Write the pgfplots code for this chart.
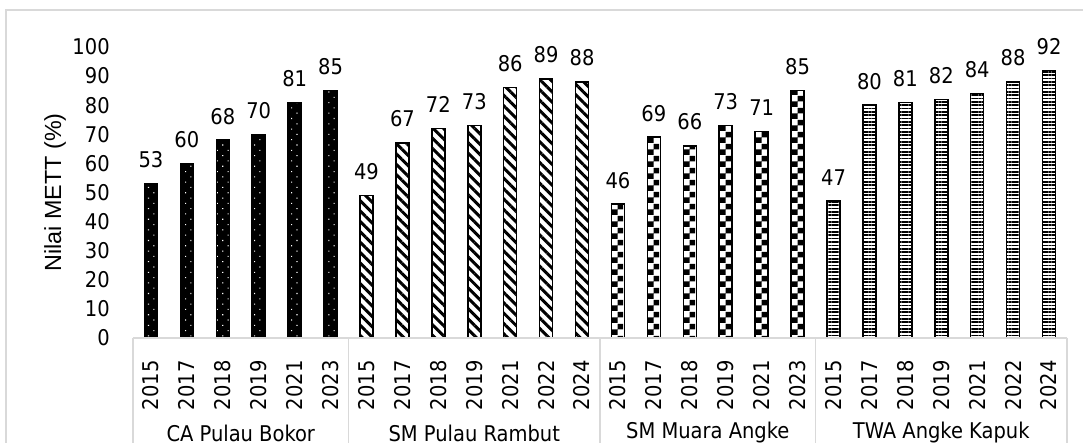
\documentclass[border=0pt]{standalone}
\usepackage{pgfplots}
\pgfplotsset{compat=1.18}
\usepackage{fontspec}
\setmainfont{DejaVu Sans Condensed}
\newfontfamily\arialf{Liberation Sans}
\usetikzlibrary{patterns,patterns.meta}
\pgfdeclarepatternformonly{mycheck}{\pgfpointorigin}{\pgfqpoint{7.2pt}{7.2pt}}{\pgfqpoint{7.2pt}{7.2pt}}{%
  \pgfpathrectangle{\pgfpointorigin}{\pgfqpoint{3.6pt}{3.6pt}}%
  \pgfpathrectangle{\pgfqpoint{3.6pt}{3.6pt}}{\pgfqpoint{3.6pt}{3.6pt}}%
  \pgfusepath{fill}}
\definecolor{framegray}{RGB}{217,217,217}
\newcommand{\cf}{\fontsize{13}{15}\selectfont}
\begin{document}
\begin{tikzpicture}
\path[use as bounding box] (-79.8pt,-62.4pt) rectangle (570pt,202.8pt);
\clip (-79.8pt,-62.4pt) rectangle (570pt,202.8pt);
\draw[framegray, line width=0.8pt] (-76.2pt,-80pt) -- (-76.2pt,196.8pt) -- (600pt,196.8pt);
\begin{axis}[
  scale only axis,
  width=560.4pt, height=174.6pt,
  xmin=-0.5, xmax=25.5, ymin=0, ymax=100,
  ybar, bar width=7.8pt, bar shift=0pt,
  axis line style={draw=none},
  tick style={draw=none},
  /pgf/number format/assume math mode=true,
  ytick={0,10,...,100},
  xtick={0,...,25},
  xticklabels={2015,2017,2018,2019,2021,2023,2015,2017,2018,2019,2021,2022,2024,2015,2017,2018,2019,2021,2023,2015,2017,2018,2019,2021,2022,2024},
  ticklabel style={font=\cf},
  yticklabel style={anchor=east, inner sep=0pt, xshift=-13.8pt},
  xticklabel style={rotate=90, anchor=east, inner sep=0pt, xshift=-9pt},
  ylabel={Nilai METT (\%)},
  every axis y label/.style={at={(axis description cs:-0.0835,0.5)}, rotate=90, anchor=center, font=\arialf\fontsize{14}{16}\selectfont},
  nodes near coords,
  nodes near coords style={font=\cf, anchor=south, inner sep=0pt, yshift=9pt},
  clip=false,
]
\addplot[draw=black, line width=0.9pt, fill=black, postaction={pattern={Dots[distance=4.5pt, angle=45, radius=0.45pt]}, pattern color=white}]
 coordinates {(0,53) (1,60) (2,68) (3,70) (4,81) (5,85)};
\addplot[draw=black, line width=0.9pt, fill=white, postaction={pattern={Lines[angle=-45, distance=4.4pt, line width=1.8pt]}, pattern color=black}]
 coordinates {(6,49) (7,67) (8,72) (9,73) (10,86) (11,89) (12,88)};
\addplot[draw=black, line width=0.9pt, fill=white, postaction={pattern=mycheck, pattern color=black}]
 coordinates {(13,46) (14,69) (15,66) (16,73) (17,71) (18,85)};
\addplot[draw=black, line width=0.9pt, fill=white, postaction={pattern={Lines[angle=0, distance=2pt, line width=1pt]}, pattern color=black}]
 coordinates {(19,47) (20,80) (21,81) (22,82) (23,84) (24,88) (25,92)};
\draw[framegray, line width=0.8pt] (axis cs:-0.5,0) -- (axis cs:25.5,0);
\draw[framegray, line width=0.8pt] (axis cs:-0.5,0) -- ([yshift=-80pt]axis cs:-0.5,0);
\draw[framegray, line width=0.8pt] (axis cs:5.5,0) -- ([yshift=-80pt]axis cs:5.5,0);
\draw[framegray, line width=0.8pt] (axis cs:12.5,0) -- ([yshift=-80pt]axis cs:12.5,0);
\draw[framegray, line width=0.8pt] (axis cs:18.5,0) -- ([yshift=-80pt]axis cs:18.5,0);
\draw[framegray, line width=0.8pt] (axis cs:25.5,0) -- ([yshift=-80pt]axis cs:25.5,0);
\node[font=\cf] at ([yshift=-57pt]axis cs:2.5,0) {CA Pulau Bokor};
\node[font=\cf] at ([yshift=-57pt]axis cs:9,0) {SM Pulau Rambut};
\node[font=\cf] at ([yshift=-57pt]axis cs:15.5,0) {SM Muara Angke};
\node[font=\cf] at ([yshift=-57pt]axis cs:22,0) {TWA Angke Kapuk};
\end{axis}
\end{tikzpicture}
\end{document}
